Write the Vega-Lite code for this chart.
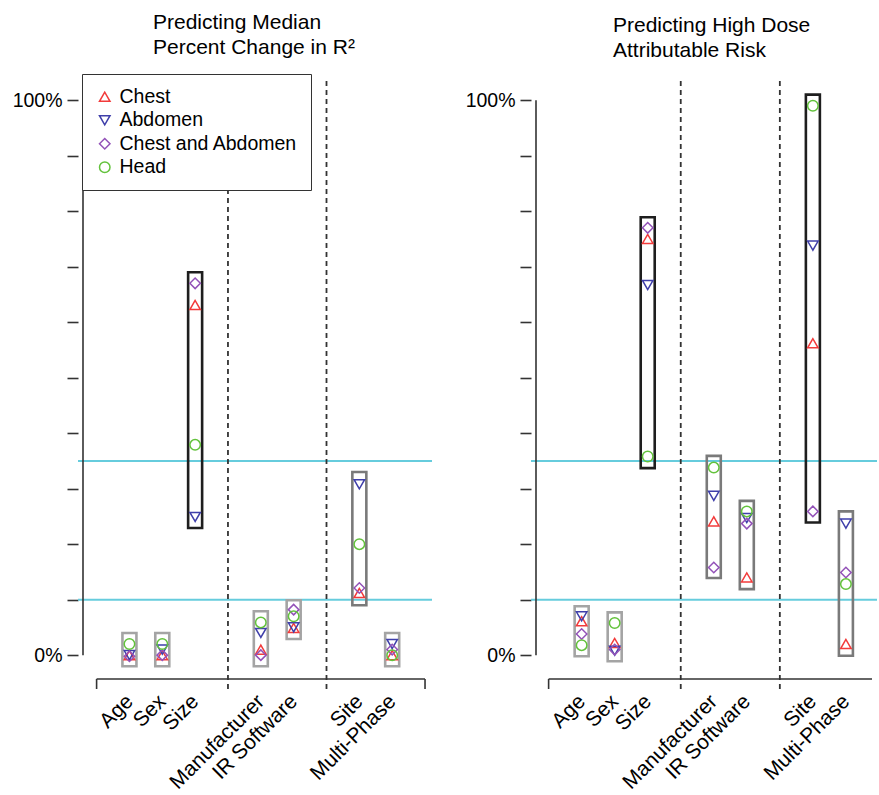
{
  "$schema": "https://vega.github.io/schema/vega-lite/v6.json",
  "padding": {"left": 12, "top": 11, "right": 0, "bottom": 0},
  "config": {"font": "Liberation Sans", "view": {"stroke": null}},
  "spacing": 32,
  "resolve": {"scale": {"color": "independent", "shape": "independent"}, "legend": {"color": "independent", "shape": "independent"}},
  "datasets": {
    "points": [
      {"panel": "R2", "var": "Age", "pos": 1, "region": "Chest", "value": 0.0},
      {"panel": "R2", "var": "Age", "pos": 1, "region": "Abdomen", "value": 0.0},
      {"panel": "R2", "var": "Age", "pos": 1, "region": "Chest and Abdomen", "value": -0.002},
      {"panel": "R2", "var": "Age", "pos": 1, "region": "Head", "value": 0.02},
      {"panel": "R2", "var": "Sex", "pos": 2, "region": "Chest", "value": 0.0},
      {"panel": "R2", "var": "Sex", "pos": 2, "region": "Abdomen", "value": 0.01},
      {"panel": "R2", "var": "Sex", "pos": 2, "region": "Chest and Abdomen", "value": 0.0},
      {"panel": "R2", "var": "Sex", "pos": 2, "region": "Head", "value": 0.02},
      {"panel": "R2", "var": "Size", "pos": 3, "region": "Chest", "value": 0.631},
      {"panel": "R2", "var": "Size", "pos": 3, "region": "Abdomen", "value": 0.249},
      {"panel": "R2", "var": "Size", "pos": 3, "region": "Chest and Abdomen", "value": 0.67},
      {"panel": "R2", "var": "Size", "pos": 3, "region": "Head", "value": 0.379},
      {"panel": "R2", "var": "Manufacturer", "pos": 5, "region": "Chest", "value": 0.01},
      {"panel": "R2", "var": "Manufacturer", "pos": 5, "region": "Abdomen", "value": 0.04},
      {"panel": "R2", "var": "Manufacturer", "pos": 5, "region": "Chest and Abdomen", "value": 0.0},
      {"panel": "R2", "var": "Manufacturer", "pos": 5, "region": "Head", "value": 0.059},
      {"panel": "R2", "var": "IR Software", "pos": 6, "region": "Chest", "value": 0.049},
      {"panel": "R2", "var": "IR Software", "pos": 6, "region": "Abdomen", "value": 0.05},
      {"panel": "R2", "var": "IR Software", "pos": 6, "region": "Chest and Abdomen", "value": 0.082},
      {"panel": "R2", "var": "IR Software", "pos": 6, "region": "Head", "value": 0.07},
      {"panel": "R2", "var": "Site", "pos": 8, "region": "Chest", "value": 0.112},
      {"panel": "R2", "var": "Site", "pos": 8, "region": "Abdomen", "value": 0.308},
      {"panel": "R2", "var": "Site", "pos": 8, "region": "Chest and Abdomen", "value": 0.121},
      {"panel": "R2", "var": "Site", "pos": 8, "region": "Head", "value": 0.2},
      {"panel": "R2", "var": "Multi-Phase", "pos": 9, "region": "Chest", "value": 0.0},
      {"panel": "R2", "var": "Multi-Phase", "pos": 9, "region": "Abdomen", "value": 0.02},
      {"panel": "R2", "var": "Multi-Phase", "pos": 9, "region": "Chest and Abdomen", "value": 0.01},
      {"panel": "R2", "var": "Multi-Phase", "pos": 9, "region": "Head", "value": 0.0},
      {"panel": "AR", "var": "Age", "pos": 1, "region": "Chest", "value": 0.061},
      {"panel": "AR", "var": "Age", "pos": 1, "region": "Abdomen", "value": 0.07},
      {"panel": "AR", "var": "Age", "pos": 1, "region": "Chest and Abdomen", "value": 0.038},
      {"panel": "AR", "var": "Age", "pos": 1, "region": "Head", "value": 0.018},
      {"panel": "AR", "var": "Sex", "pos": 2, "region": "Chest", "value": 0.022},
      {"panel": "AR", "var": "Sex", "pos": 2, "region": "Abdomen", "value": 0.008},
      {"panel": "AR", "var": "Sex", "pos": 2, "region": "Chest and Abdomen", "value": 0.01},
      {"panel": "AR", "var": "Sex", "pos": 2, "region": "Head", "value": 0.058},
      {"panel": "AR", "var": "Size", "pos": 3, "region": "Chest", "value": 0.75},
      {"panel": "AR", "var": "Size", "pos": 3, "region": "Abdomen", "value": 0.667},
      {"panel": "AR", "var": "Size", "pos": 3, "region": "Chest and Abdomen", "value": 0.77},
      {"panel": "AR", "var": "Size", "pos": 3, "region": "Head", "value": 0.358},
      {"panel": "AR", "var": "Manufacturer", "pos": 5, "region": "Chest", "value": 0.241},
      {"panel": "AR", "var": "Manufacturer", "pos": 5, "region": "Abdomen", "value": 0.287},
      {"panel": "AR", "var": "Manufacturer", "pos": 5, "region": "Chest and Abdomen", "value": 0.158},
      {"panel": "AR", "var": "Manufacturer", "pos": 5, "region": "Head", "value": 0.338},
      {"panel": "AR", "var": "IR Software", "pos": 6, "region": "Chest", "value": 0.14},
      {"panel": "AR", "var": "IR Software", "pos": 6, "region": "Abdomen", "value": 0.247},
      {"panel": "AR", "var": "IR Software", "pos": 6, "region": "Chest and Abdomen", "value": 0.237},
      {"panel": "AR", "var": "IR Software", "pos": 6, "region": "Head", "value": 0.259},
      {"panel": "AR", "var": "Site", "pos": 8, "region": "Chest", "value": 0.562},
      {"panel": "AR", "var": "Site", "pos": 8, "region": "Abdomen", "value": 0.738},
      {"panel": "AR", "var": "Site", "pos": 8, "region": "Chest and Abdomen", "value": 0.259},
      {"panel": "AR", "var": "Site", "pos": 8, "region": "Head", "value": 0.99},
      {"panel": "AR", "var": "Multi-Phase", "pos": 9, "region": "Chest", "value": 0.02},
      {"panel": "AR", "var": "Multi-Phase", "pos": 9, "region": "Abdomen", "value": 0.237},
      {"panel": "AR", "var": "Multi-Phase", "pos": 9, "region": "Chest and Abdomen", "value": 0.149},
      {"panel": "AR", "var": "Multi-Phase", "pos": 9, "region": "Head", "value": 0.128}
    ],
    "boxes": [
      {"panel": "R2", "var": "Age", "pos": 1, "lo": -0.02, "hi": 0.04, "level": "weak"},
      {"panel": "R2", "var": "Sex", "pos": 2, "lo": -0.02, "hi": 0.04, "level": "weak"},
      {"panel": "R2", "var": "Size", "pos": 3, "lo": 0.229, "hi": 0.69, "level": "strong"},
      {"panel": "R2", "var": "Manufacturer", "pos": 5, "lo": -0.02, "hi": 0.079, "level": "weak"},
      {"panel": "R2", "var": "IR Software", "pos": 6, "lo": 0.029, "hi": 0.099, "level": "weak"},
      {"panel": "R2", "var": "Site", "pos": 8, "lo": 0.09, "hi": 0.33, "level": "medium"},
      {"panel": "R2", "var": "Multi-Phase", "pos": 9, "lo": -0.02, "hi": 0.04, "level": "weak"},
      {"panel": "AR", "var": "Age", "pos": 1, "lo": -0.002, "hi": 0.088, "level": "weak"},
      {"panel": "AR", "var": "Sex", "pos": 2, "lo": -0.011, "hi": 0.077, "level": "weak"},
      {"panel": "AR", "var": "Size", "pos": 3, "lo": 0.337, "hi": 0.789, "level": "strong"},
      {"panel": "AR", "var": "Manufacturer", "pos": 5, "lo": 0.139, "hi": 0.359, "level": "medium"},
      {"panel": "AR", "var": "IR Software", "pos": 6, "lo": 0.119, "hi": 0.278, "level": "medium"},
      {"panel": "AR", "var": "Site", "pos": 8, "lo": 0.239, "hi": 1.01, "level": "strong"},
      {"panel": "AR", "var": "Multi-Phase", "pos": 9, "lo": -0.001, "hi": 0.259, "level": "medium"}
    ],
    "refs": [{"t": 0.1}, {"t": 0.35}],
    "seps": [{"s": 4}, {"s": 7}]
  },
  "hconcat": [
    {
      "width": 354,
      "height": 601,
      "title": {"text": ["Predicting Median", "Percent Change in R²"], "fontSize": 21, "fontWeight": "normal", "lineHeight": 25, "color": "black", "anchor": "start", "frame": "group", "align": "left", "dx": 75, "offset": 16},
      "layer": [
        {
          "data": {"name": "refs"},
          "mark": {"type": "rule", "color": "#66CCDD", "strokeWidth": 2},
          "encoding": {
            "y": {"field": "t", "type": "quantitative", "title": null, "scale": {"domain": [-0.043, 1.04], "nice": false, "zero": false}}
          }
        },
        {
          "data": {"name": "seps"},
          "mark": {"type": "rule", "color": "#333333", "strokeWidth": 1.8, "strokeDash": [5, 4]},
          "encoding": {
            "x": {"field": "s", "type": "quantitative", "title": null, "scale": {"domain": [-0.414, 10.06], "nice": false, "zero": false}},
            "y": {"datum": -0.061, "type": "quantitative", "scale": {"domain": [-0.043, 1.04], "nice": false, "zero": false}},
            "y2": {"datum": 1.04}
          }
        },
        {
          "data": {"values": [{"a": 0, "b": 10}]},
          "mark": {"type": "rule", "color": "#333333", "strokeWidth": 1.6},
          "encoding": {
            "x": {"field": "a", "type": "quantitative", "title": null, "scale": {"domain": [-0.414, 10.06], "nice": false, "zero": false}},
            "x2": {"field": "b"},
            "y": {"datum": -0.043, "type": "quantitative", "scale": {"domain": [-0.043, 1.04], "nice": false, "zero": false}}
          }
        },
        {
          "data": {"values": [{"s": 0}, {"s": 10}]},
          "mark": {"type": "rule", "color": "#333333", "strokeWidth": 1.6},
          "encoding": {
            "x": {"field": "s", "type": "quantitative", "title": null, "scale": {"domain": [-0.414, 10.06], "nice": false, "zero": false}},
            "y": {"datum": -0.061, "type": "quantitative", "scale": {"domain": [-0.043, 1.04], "nice": false, "zero": false}},
            "y2": {"datum": -0.043}
          }
        },
        {
          "data": {"values": [{"lo": 0, "hi": 1}]},
          "mark": {"type": "rule", "color": "#333333", "strokeWidth": 1.6},
          "encoding": {
            "x": {"datum": -0.414, "type": "quantitative", "scale": {"domain": [-0.414, 10.06], "nice": false, "zero": false}},
            "y": {"field": "lo", "type": "quantitative", "title": null, "scale": {"domain": [-0.043, 1.04], "nice": false, "zero": false}},
            "y2": {"field": "hi"}
          }
        },
        {
          "data": {"name": "boxes"},
          "transform": [{"filter": "datum.panel == 'R2'"}],
          "mark": {"type": "bar", "orient": "vertical", "width": 14, "fill": null, "fillOpacity": 0, "strokeWidth": 2.6},
          "encoding": {
            "x": {"field": "pos", "type": "quantitative", "title": null, "scale": {"domain": [-0.414, 10.06], "nice": false, "zero": false}},
            "y": {"field": "lo", "type": "quantitative", "title": null, "scale": {"domain": [-0.043, 1.04], "nice": false, "zero": false}},
            "y2": {"field": "hi"},
            "stroke": {"field": "level", "type": "nominal", "legend": null, "scale": {"domain": ["strong", "medium", "weak"], "range": ["#1e1e1e", "#7a7a7a", "#a4a4a4"]}}
          }
        },
        {
          "data": {"name": "points"},
          "transform": [{"filter": "datum.panel == 'R2'"}],
          "mark": {"type": "point", "filled": false, "strokeWidth": 1.5, "size": 110, "opacity": 1},
          "encoding": {
            "x": {
              "field": "pos", "type": "quantitative", "title": null,
              "scale": {"domain": [-0.414, 10.06], "nice": false, "zero": false},
              "axis": {"values": [1, 2, 3, 5, 6, 8, 9], "labelExpr": "['', 'Age', 'Sex', 'Size', '', 'Manufacturer', 'IR Software', '', 'Site', 'Multi-Phase'][datum.value]", "labelAngle": -45, "labelAlign": "right", "labelBaseline": "middle", "domain": false, "ticks": false, "grid": false, "labelFontSize": 21, "labelColor": "black", "labelPadding": 19, "labelOffset": 0, "labelOverlap": false, "labelBound": false, "labelFlush": false}
            },
            "y": {
              "field": "value", "type": "quantitative", "title": null,
              "scale": {"domain": [-0.043, 1.04], "nice": false, "zero": false},
              "axis": {"values": [0, 0.1, 0.2, 0.3, 0.4, 0.5, 0.6, 0.7, 0.8, 0.9, 1], "labelExpr": "datum.value == 0 ? '0%' : (datum.value == 1 ? '100%' : '')", "domain": false, "grid": false, "tickSize": 11, "tickColor": "#333333", "tickWidth": 1.6, "labelFontSize": 19.5, "labelColor": "black", "labelPadding": 5, "labelOverlap": false, "labelFlush": false}
            },
            "color": {
              "field": "region", "type": "nominal",
              "scale": {"domain": ["Chest", "Abdomen", "Chest and Abdomen", "Head"], "range": ["#F23B3B", "#3F3FAA", "#9352B8", "#63C23C"]},
              "legend": {"title": null, "orient": "none", "legendX": 4, "legendY": -4, "padding": 13, "strokeColor": "#333333", "fillColor": "white", "labelFontSize": 19.5, "labelColor": "black", "labelOffset": 5, "rowPadding": 2.5, "symbolSize": 110, "symbolStrokeWidth": 1.5, "labelLimit": 300}
            },
            "shape": {
              "field": "region", "type": "nominal",
              "scale": {"domain": ["Chest", "Abdomen", "Chest and Abdomen", "Head"], "range": ["triangle-up", "triangle-down", "diamond", "circle"]},
              "legend": {"title": null, "orient": "none", "legendX": 4, "legendY": -4}
            }
          }
        }
      ]
    },
    {
      "width": 346,
      "height": 601,
      "title": {"text": ["Predicting High Dose", "Attributable Risk"], "fontSize": 21, "fontWeight": "normal", "lineHeight": 25, "color": "black", "anchor": "start", "frame": "group", "align": "left", "dx": 82, "offset": 16},
      "layer": [
        {
          "data": {"name": "refs"},
          "mark": {"type": "rule", "color": "#66CCDD", "strokeWidth": 2},
          "encoding": {
            "y": {"field": "t", "type": "quantitative", "title": null, "scale": {"domain": [-0.043, 1.04], "nice": false, "zero": false}}
          }
        },
        {
          "data": {"name": "seps"},
          "mark": {"type": "rule", "color": "#333333", "strokeWidth": 1.8, "strokeDash": [5, 4]},
          "encoding": {
            "x": {"field": "s", "type": "quantitative", "title": null, "scale": {"domain": [-0.382, 9.79], "nice": false, "zero": false}},
            "y": {"datum": -0.061, "type": "quantitative", "scale": {"domain": [-0.043, 1.04], "nice": false, "zero": false}},
            "y2": {"datum": 1.04}
          }
        },
        {
          "data": {"values": [{"a": 0, "b": 9.79}]},
          "mark": {"type": "rule", "color": "#333333", "strokeWidth": 1.6},
          "encoding": {
            "x": {"field": "a", "type": "quantitative", "title": null, "scale": {"domain": [-0.382, 9.79], "nice": false, "zero": false}},
            "x2": {"field": "b"},
            "y": {"datum": -0.043, "type": "quantitative", "scale": {"domain": [-0.043, 1.04], "nice": false, "zero": false}}
          }
        },
        {
          "data": {"values": [{"s": 0}]},
          "mark": {"type": "rule", "color": "#333333", "strokeWidth": 1.6},
          "encoding": {
            "x": {"field": "s", "type": "quantitative", "title": null, "scale": {"domain": [-0.382, 9.79], "nice": false, "zero": false}},
            "y": {"datum": -0.061, "type": "quantitative", "scale": {"domain": [-0.043, 1.04], "nice": false, "zero": false}},
            "y2": {"datum": -0.043}
          }
        },
        {
          "data": {"values": [{"lo": 0, "hi": 1}]},
          "mark": {"type": "rule", "color": "#333333", "strokeWidth": 1.6},
          "encoding": {
            "x": {"datum": -0.382, "type": "quantitative", "scale": {"domain": [-0.382, 9.79], "nice": false, "zero": false}},
            "y": {"field": "lo", "type": "quantitative", "title": null, "scale": {"domain": [-0.043, 1.04], "nice": false, "zero": false}},
            "y2": {"field": "hi"}
          }
        },
        {
          "data": {"name": "boxes"},
          "transform": [{"filter": "datum.panel == 'AR'"}],
          "mark": {"type": "bar", "orient": "vertical", "width": 14, "fill": null, "fillOpacity": 0, "strokeWidth": 2.6},
          "encoding": {
            "x": {"field": "pos", "type": "quantitative", "title": null, "scale": {"domain": [-0.382, 9.79], "nice": false, "zero": false}},
            "y": {"field": "lo", "type": "quantitative", "title": null, "scale": {"domain": [-0.043, 1.04], "nice": false, "zero": false}},
            "y2": {"field": "hi"},
            "stroke": {"field": "level", "type": "nominal", "legend": null, "scale": {"domain": ["strong", "medium", "weak"], "range": ["#1e1e1e", "#7a7a7a", "#a4a4a4"]}}
          }
        },
        {
          "data": {"name": "points"},
          "transform": [{"filter": "datum.panel == 'AR'"}],
          "mark": {"type": "point", "filled": false, "strokeWidth": 1.5, "size": 110, "opacity": 1},
          "encoding": {
            "x": {
              "field": "pos", "type": "quantitative", "title": null,
              "scale": {"domain": [-0.382, 9.79], "nice": false, "zero": false},
              "axis": {"values": [1, 2, 3, 5, 6, 8, 9], "labelExpr": "['', 'Age', 'Sex', 'Size', '', 'Manufacturer', 'IR Software', '', 'Site', 'Multi-Phase'][datum.value]", "labelAngle": -45, "labelAlign": "right", "labelBaseline": "middle", "domain": false, "ticks": false, "grid": false, "labelFontSize": 21, "labelColor": "black", "labelPadding": 19, "labelOffset": 0, "labelOverlap": false, "labelBound": false, "labelFlush": false}
            },
            "y": {
              "field": "value", "type": "quantitative", "title": null,
              "scale": {"domain": [-0.043, 1.04], "nice": false, "zero": false},
              "axis": {"values": [0, 0.1, 0.2, 0.3, 0.4, 0.5, 0.6, 0.7, 0.8, 0.9, 1], "labelExpr": "datum.value == 0 ? '0%' : (datum.value == 1 ? '100%' : '')", "domain": false, "grid": false, "tickSize": 11, "tickColor": "#333333", "tickWidth": 1.6, "labelFontSize": 19.5, "labelColor": "black", "labelPadding": 5, "labelOverlap": false, "labelFlush": false}
            },
            "color": {
              "field": "region", "type": "nominal",
              "scale": {"domain": ["Chest", "Abdomen", "Chest and Abdomen", "Head"], "range": ["#F23B3B", "#3F3FAA", "#9352B8", "#63C23C"]},
              "legend": null
            },
            "shape": {
              "field": "region", "type": "nominal",
              "scale": {"domain": ["Chest", "Abdomen", "Chest and Abdomen", "Head"], "range": ["triangle-up", "triangle-down", "diamond", "circle"]},
              "legend": null
            }
          }
        }
      ]
    }
  ]
}
